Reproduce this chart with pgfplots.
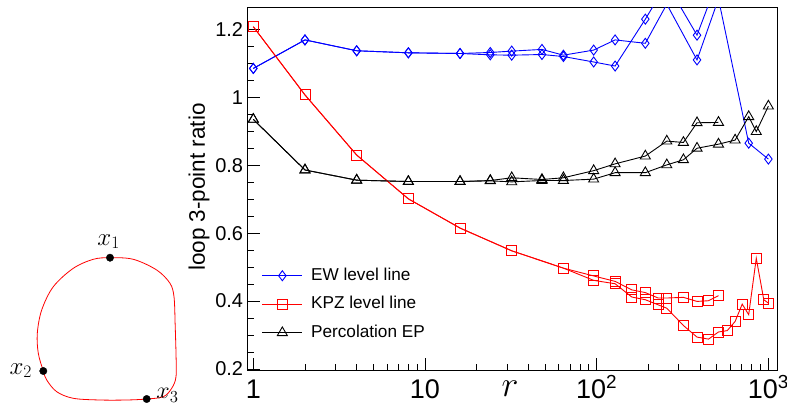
\RequirePackage{fix-cm}
\documentclass[border=0pt]{standalone}
\usepackage{pgfplots}
\usepackage{pgfplotstable}
\pgfplotsset{compat=1.18}
\usepackage[no-math]{fontspec}
\setmainfont{Liberation Sans}

% EW level line, two runs
\pgfplotstableread{
x y
1 1.085
2 1.169
4 1.137
8 1.131
16 1.129
24 1.132
32 1.136
48 1.141
64 1.124
96 1.139
128 1.169
192 1.159
256 1.274
384 1.11
512 1.29
768 0.865
1000 0.818
}\ewA
\pgfplotstableread{
x y
1 1.085
2 1.169
4 1.137
8 1.131
16 1.129
24 1.125
32 1.124
48 1.126
64 1.12
96 1.104
128 1.092
192 1.23
256 1.335
384 1.183
512 1.35
}\ewB

% KPZ level line
\pgfplotstableread{
x y
1 1.208
2 1.007
4 0.83
8 0.701
16 0.615
32 0.548
64 0.497
96 0.474
128 0.458
160 0.433
192 0.425
228 0.409
256 0.409
320 0.411
384 0.399
448 0.401
512 0.416
}\kpzA
\pgfplotstableread{
x y
1 1.208
2 1.007
4 0.83
8 0.701
16 0.615
32 0.548
64 0.497
96 0.461
128 0.451
160 0.412
192 0.404
228 0.389
256 0.379
320 0.328
384 0.294
448 0.288
512 0.309
576 0.313
640 0.34
704 0.391
768 0.36
850 0.526
940 0.404
1000 0.394
}\kpzB

% percolation EP
\pgfplotstableread{
x y
1 0.935
2 0.786
4 0.756
8 0.752
16 0.752
24 0.755
32 0.763
48 0.758
64 0.763
96 0.784
128 0.804
192 0.827
256 0.871
320 0.867
384 0.925
512 0.926
}\percA
\pgfplotstableread{
x y
1 0.935
2 0.786
4 0.756
8 0.752
16 0.752
24 0.754
32 0.751
48 0.755
64 0.755
96 0.759
128 0.778
192 0.778
256 0.801
320 0.816
384 0.85
512 0.862
640 0.874
768 0.943
850 0.899
1000 0.974
}\percB

\begin{document}
\begin{tikzpicture}
\useasboundingbox (0,0) rectangle (787pt,407pt);

% sketch of the loop, in pixel units
\begin{axis}[at={(0pt,0pt)}, anchor=south west, scale only axis,
  width=787pt, height=407pt, xmin=0, xmax=787, ymin=0, ymax=407,
  y dir=reverse, hide axis, clip=false]
\addplot[red, line width=0.8pt, smooth, tension=0.55, mark=none] coordinates {
 (175,320) (176,353.3) (176,376.7) (171.7,388.3) (163.3,396.7) (146.7,399)
 (126.7,400) (100,400) (73.3,398.3) (56.7,391.7) (46.7,380) (43.3,371)
 (38.3,353.3) (37.3,333.3) (41.7,310) (53.3,286.7) (73.3,268.3) (93.3,259.3)
 (110,257.7) (133.3,259.3) (156.7,270) (170,283.3) (174,296.7) (175,320)};
\addplot[only marks, mark=*, mark size=3.7pt, black] coordinates {
 (110,257.7) (43.3,371) (146.7,399)};
\node[font=\fontsize{25}{27}\selectfont] at (axis cs:108.7,241.7) {$x_1$};
\node[font=\fontsize{25}{27}\selectfont] at (axis cs:20.8,370.5) {$x_2$};
\node[font=\fontsize{24}{26}\selectfont] at (axis cs:167.5,395.5) {$x_3$};
\end{axis}

\begin{axis}[at={(247pt,36.3pt)}, anchor=south west, scale only axis,
  width=530.3pt, height=363.4pt,
  xmode=log, xmin=0.919, xmax=1127, ymin=0.195, ymax=1.265,
  xtick={1,10,100,1000},
  xticklabels={1,10,10\textsuperscript{2},10\textsuperscript{3}},
  minor xtick={2,3,4,5,6,7,8,9,20,30,40,50,60,70,80,90,200,300,400,500,600,700,800,900},
  ytick={0.2,0.4,0.6,0.8,1,1.2}, minor y tick num=3,
  xtick pos=left, ytick pos=left, tick align=inside,
  major tick length=13pt, minor tick length=7pt,
  tick style={black, line width=0.8pt},
  axis line style={line width=0.9pt},
  /pgf/number format/assume math mode=true,
  yticklabel style={font=\fontsize{20}{22}\selectfont, inner sep=0pt, xshift=-3.7pt},
  xticklabel style={font=\fontsize{27}{30}\selectfont, inner sep=0pt,
    text height=19.3pt, text depth=0pt, yshift=-8.3pt},
  ylabel={loop 3-point ratio},
  ylabel style={font=\fontsize{22.5}{25}\selectfont, at={(rel axis cs:-0.0906,0.505)}, anchor=center},
  xlabel={$r$},
  xlabel style={font=\fontsize{36}{40}\selectfont, at={(rel axis cs:0.496,0)}, anchor=center, yshift=-18.3pt},
  legend style={at={(rel axis cs:0.0277,0.284)}, anchor=north west, draw=none, fill=none,
    font=\fontsize{17.2}{20}\selectfont, inner sep=0pt, column sep=8.3pt, row sep=12.4pt,
    nodes={inner sep=0pt, text height=12.5pt, text depth=3.6pt}},
  legend cell align=left,
  legend image code/.code={\draw[mark repeat=2,mark phase=2,#1] plot coordinates {(0pt,0pt) (20pt,0pt) (40pt,0pt)};},
  every axis plot/.append style={line width=0.9pt},
  clip=true]
\addplot[blue, mark=diamond, mark size=5pt] table {\ewA};
\addlegendentry{EW level line}
\addplot[red, mark=square, mark size=5pt] table {\kpzA};
\addlegendentry{KPZ level line}
\addplot[black, mark=triangle, mark size=5.8pt] table {\percA};
\addlegendentry{Percolation EP}
\addplot[blue, mark=diamond, mark size=5pt, forget plot] table {\ewB};
\addplot[red, mark=square, mark size=5pt, forget plot] table {\kpzB};
\addplot[black, mark=triangle, mark size=5.8pt, forget plot] table {\percB};
\end{axis}
\end{tikzpicture}
\end{document}
